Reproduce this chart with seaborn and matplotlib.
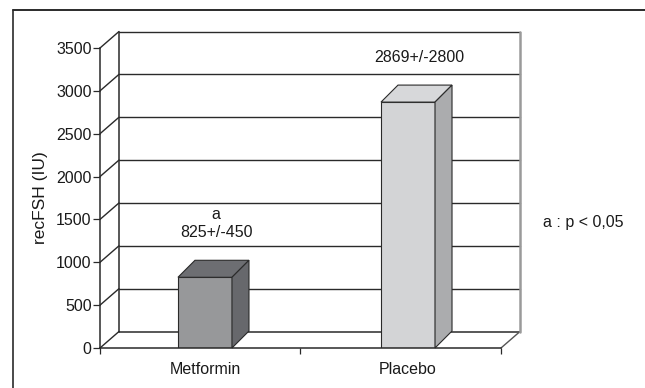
import matplotlib
matplotlib.use("Agg")
import matplotlib.pyplot as plt
from matplotlib.patches import Polygon
from matplotlib.lines import Line2D
import seaborn as sns

# Data
groups = ["Metformin", "Placebo"]
means = [825, 2869]
sds = [450, 2800]
sig = ["a", ""]
y_ticks = [0, 500, 1000, 1500, 2000, 2500, 3000, 3500]

front_colors = ["#97989a", "#d3d4d6"]
top_colors = ["#6d6e72", "#d7d8da"]
side_colors = ["#67686c", "#abacae"]

sns.set_theme(style="white")
plt.rcParams["font.family"] = ["Liberation Sans", "DejaVu Sans"]
FS = 11.5
EDGE = "#2a2a2a"

W, H = 645, 388
fig = plt.figure(figsize=(W / 100, H / 100), dpi=100)
fig.patch.set_facecolor("white")
ax = fig.add_axes([100 / W, 40 / H, 401 / W, 300 / H])
ax.set_facecolor("none")

sns.barplot(x=groups, y=means, hue=groups, palette=front_colors, width=0.266,
            edgecolor=EDGE, linewidth=0.8, legend=False, ax=ax, zorder=3)

lo, hi = -0.517, 1.458
ymax = 3500
ax.set_xlim(lo, hi)
ax.set_ylim(0, ymax)

# pixel -> data conversions for the perspective depth
ppx = 401 / (hi - lo)
ppy = 300 / ymax
wdx, wdy = 19 / ppx, 16.5 / ppy   # wall depth
bdx, bdy = 17 / ppx, 17 / ppy     # bar depth

# Floor, left wall and back wall
floor = Polygon([(lo, 0), (hi, 0), (hi + wdx, wdy), (lo + wdx, wdy)], closed=True,
                facecolor="white", edgecolor="none", zorder=0.5, clip_on=False)
ax.add_patch(floor)
for v in y_ticks[1:]:
    # back wall grid line
    ax.add_line(Line2D([lo + wdx, hi + wdx], [v + wdy, v + wdy], color=EDGE,
                       lw=1.0, zorder=1, clip_on=False))
    # left wall diagonal
    ax.add_line(Line2D([lo, lo + wdx], [v, v + wdy], color=EDGE, lw=1.0,
                       zorder=1, clip_on=False))
# wall outline
ax.add_line(Line2D([lo + wdx, lo + wdx], [wdy, ymax + wdy], color=EDGE, lw=1.1,
                   zorder=1, clip_on=False))
ax.add_line(Line2D([lo + wdx, hi + wdx], [wdy, wdy], color=EDGE, lw=1.1,
                   zorder=1, clip_on=False))
ax.add_line(Line2D([lo, lo + wdx], [0, wdy], color=EDGE, lw=1.0,
                   zorder=1, clip_on=False))
ax.add_line(Line2D([hi, hi + wdx], [0, wdy], color="#555555", lw=1.0,
                   zorder=1, clip_on=False))
ax.add_line(Line2D([hi + wdx, hi + wdx], [wdy, ymax + wdy], color="#9a9a9a", lw=1.8,
                   zorder=1, clip_on=False))

# Top and side faces of the bars
bars = [p for p in ax.patches if p is not floor]
for i, p in enumerate(bars):
    x0, w, h = p.get_x(), p.get_width(), p.get_height()
    top = Polygon([(x0, h), (x0 + w, h), (x0 + w + bdx, h + bdy), (x0 + bdx, h + bdy)],
                  closed=True, facecolor=top_colors[i], edgecolor=EDGE, lw=0.8,
                  zorder=3, clip_on=False)
    side = Polygon([(x0 + w, 0), (x0 + w + bdx, bdy), (x0 + w + bdx, h + bdy), (x0 + w, h)],
                   closed=True, facecolor=side_colors[i], edgecolor=EDGE, lw=0.8,
                   zorder=3, clip_on=False)
    ax.add_patch(top)
    ax.add_patch(side)

# Value labels above the bars
for i, (m, s) in enumerate(zip(means, sds)):
    ax.annotate(f"{m}+/-{s}", xy=(i, m), xytext=(8, 32), textcoords="offset points",
                ha="center", va="center", fontsize=FS, color="#1a1a1a")
    if sig[i]:
        ax.annotate(sig[i], xy=(i, m), xytext=(8, 45), textcoords="offset points",
                    ha="center", va="center", fontsize=FS, color="#1a1a1a")

# Axes styling
for s in ["top", "right"]:
    ax.spines[s].set_visible(False)
for s in ["left", "bottom"]:
    ax.spines[s].set_color(EDGE)
    ax.spines[s].set_linewidth(1.1)
    ax.spines[s].set_zorder(4)

ax.set_yticks(y_ticks)
ax.tick_params(axis="y", left=True, length=5, width=0.9, color=EDGE, pad=1,
               labelsize=FS, labelcolor="#1a1a1a")
ax.set_xticks([0, 1])
ax.set_xticklabels(groups)
ax.tick_params(axis="x", which="major", length=0, pad=10, labelsize=FS,
               labelcolor="#1a1a1a")
ax.set_xticks([lo, (lo + hi) / 2, hi], minor=True)
ax.tick_params(axis="x", which="minor", bottom=True, length=4, width=0.9, color=EDGE)
ax.set_xlabel("")
ax.set_ylabel("recFSH (IU)", fontsize=12.5, color="#1a1a1a", labelpad=6)

# Footnote
fig.text(583 / W, 1 - 222 / H, "a : p < 0,05", ha="center", va="center",
         fontsize=FS, color="#1a1a1a")

# Outer frame (left and top edges)
fig.add_artist(Line2D([13 / W, 13 / W], [0, 1 - 10 / H], color=EDGE, lw=1.2))
fig.add_artist(Line2D([13 / W, 1], [1 - 10 / H, 1 - 10 / H], color=EDGE, lw=1.4))

fig.savefig("out.png", dpi=100, facecolor="white")
